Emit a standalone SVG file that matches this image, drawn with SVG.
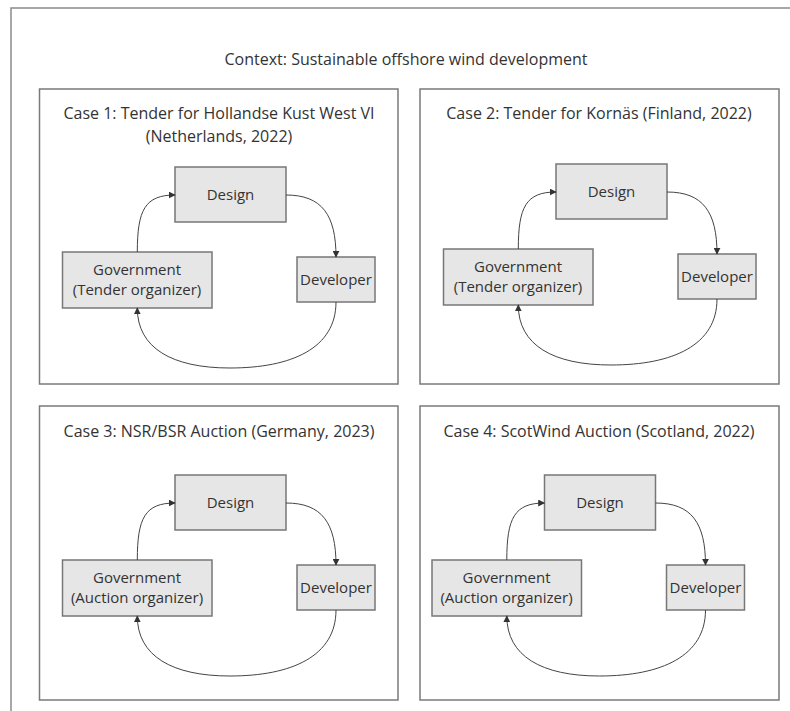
<svg xmlns="http://www.w3.org/2000/svg" width="790" height="711" viewBox="0 0 790 711">
<defs>
<style>
text{font-family:"Open Sans","Noto Sans","Liberation Sans",sans-serif;font-size:15px;fill:#333;text-anchor:middle}
text.title{font-size:16px}
.frame{fill:none;stroke:#8a8a8a;stroke-width:1.5}
.case{fill:#fff;stroke:#7a7a7a;stroke-width:1.5}
.node rect{fill:#e6e6e6;stroke:#777;stroke-width:1.5}
.conn path{fill:none;stroke:#444;stroke-width:1;marker-end:url(#ah)}
</style>
<marker id="ah" viewBox="0 0 10 10" refX="9" refY="5" markerWidth="7" markerHeight="7" markerUnits="userSpaceOnUse" orient="auto">
<path d="M0,0 L10,5 L0,10 Z" fill="#333"/>
</marker>
</defs>
<rect width="790" height="711" fill="#fff"/>
<path class="frame" d="M11,711 V8 H790"/>
<text class="title" x="406" y="65">Context: Sustainable offshore wind development</text>

<g id="case1">
<rect class="case" x="39.5" y="89" width="358.5" height="295"/>
<text class="title" x="219" y="119">Case 1: Tender for Hollandse Kust West VI</text>
<text class="title" x="219" y="142">(Netherlands, 2022)</text>
<g id="c1-design" class="node"><rect x="175" y="167" width="111" height="55"/><text x="230.5" y="200">Design</text></g>
<g id="c1-government" class="node"><rect x="62.5" y="252" width="149.5" height="56"/><text x="137" y="275">Government</text><text x="137" y="295">(Tender organizer)</text></g>
<g id="c1-developer" class="node"><rect x="297" y="257" width="78" height="45"/><text x="336" y="285">Developer</text></g>
<g id="c1-connectors" class="conn">
<path d="M137.3,252 C137.3,210 145,195 175,195"/>
<path d="M286,195 C322,195 336,215 336,257"/>
<path d="M336,302 C336,348 292,368 230,368 C172,368 137.3,348 137.3,308"/>
</g>
</g>

<g id="case2">
<rect class="case" x="420" y="89" width="359" height="295"/>
<text class="title" x="599" y="119">Case 2: Tender for Kornäs (Finland, 2022)</text>
<g transform="translate(381,-3)">
<g id="c2-design" class="node"><rect x="175" y="167" width="111" height="55"/><text x="230.5" y="200">Design</text></g>
<g id="c2-government" class="node"><rect x="62.5" y="252" width="149.5" height="56"/><text x="137" y="275">Government</text><text x="137" y="295">(Tender organizer)</text></g>
<g id="c2-developer" class="node"><rect x="297" y="257" width="78" height="45"/><text x="336" y="285">Developer</text></g>
<g id="c2-connectors" class="conn">
<path d="M137.3,252 C137.3,210 145,195 175,195"/>
<path d="M286,195 C322,195 336,215 336,257"/>
<path d="M336,302 C336,348 292,368 230,368 C172,368 137.3,348 137.3,308"/>
</g>
</g>
</g>

<g id="case3">
<rect class="case" x="39.5" y="406" width="358.5" height="294"/>
<text class="title" x="219" y="437">Case 3: NSR/BSR Auction (Germany, 2023)</text>
<g transform="translate(0,308)">
<g id="c3-design" class="node"><rect x="175" y="167" width="111" height="55"/><text x="230.5" y="200">Design</text></g>
<g id="c3-government" class="node"><rect x="62.5" y="252" width="149.5" height="56"/><text x="137" y="275">Government</text><text x="137" y="295">(Auction organizer)</text></g>
<g id="c3-developer" class="node"><rect x="297" y="257" width="78" height="45"/><text x="336" y="285">Developer</text></g>
<g id="c3-connectors" class="conn">
<path d="M137.3,252 C137.3,210 145,195 175,195"/>
<path d="M286,195 C322,195 336,215 336,257"/>
<path d="M336,302 C336,348 292,368 230,368 C172,368 137.3,348 137.3,308"/>
</g>
</g>
</g>

<g id="case4">
<rect class="case" x="420" y="406" width="359" height="294"/>
<text class="title" x="599" y="437">Case 4: ScotWind Auction (Scotland, 2022)</text>
<g transform="translate(369.5,308)">
<g id="c4-design" class="node"><rect x="175" y="167" width="111" height="55"/><text x="230.5" y="200">Design</text></g>
<g id="c4-government" class="node"><rect x="62.5" y="252" width="149.5" height="56"/><text x="137" y="275">Government</text><text x="137" y="295">(Auction organizer)</text></g>
<g id="c4-developer" class="node"><rect x="297" y="257" width="78" height="45"/><text x="336" y="285">Developer</text></g>
<g id="c4-connectors" class="conn">
<path d="M137.3,252 C137.3,210 145,195 175,195"/>
<path d="M286,195 C322,195 336,215 336,257"/>
<path d="M336,302 C336,348 292,368 230,368 C172,368 137.3,348 137.3,308"/>
</g>
</g>
</g>
</svg>
